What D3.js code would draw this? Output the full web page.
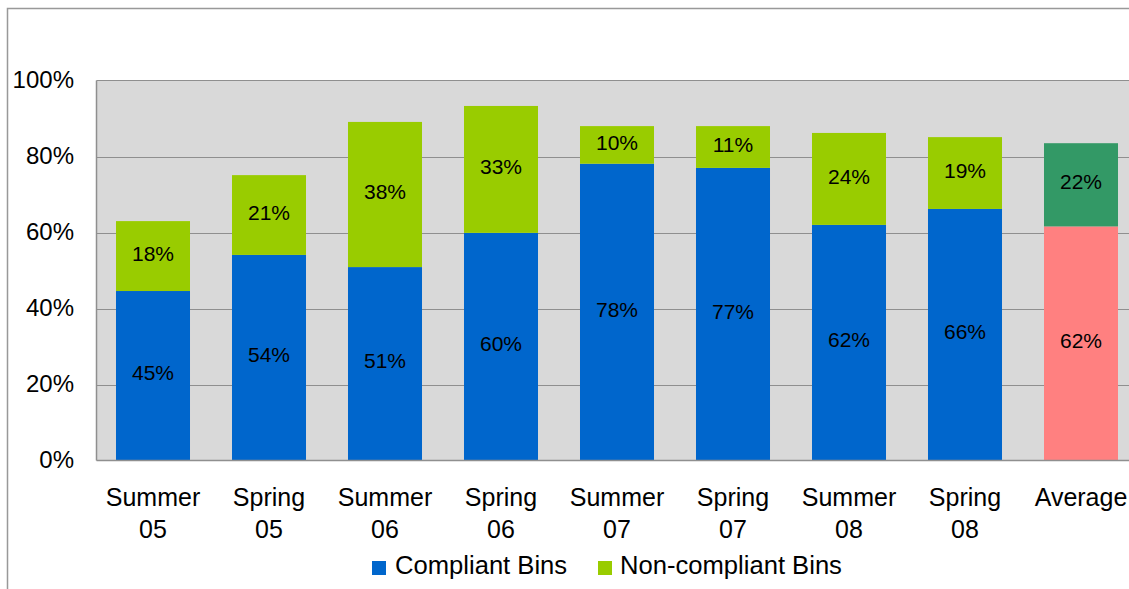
<!DOCTYPE html>
<html>
<head>
<meta charset="utf-8">
<script src="https://cdn.jsdelivr.net/npm/d3@7"></script>
<style>
  html, body { margin: 0; padding: 0; background: #fff; overflow: hidden; }
  svg { display: block; font-family: "Liberation Sans", Arial, sans-serif; }
</style>
</head>
<body>
<svg id="chart" width="1129" height="589"></svg>
<script>
// ---- data ----
const categories = ["Summer 05", "Spring 05", "Summer 06", "Spring 06", "Summer 07", "Spring 07", "Summer 08", "Spring 08", "Average"];
const categoryLines = [["Summer", "05"], ["Spring", "05"], ["Summer", "06"], ["Spring", "06"], ["Summer", "07"], ["Spring", "07"], ["Summer", "08"], ["Spring", "08"], ["Average"]];
const compliant = [0.446, 0.541, 0.509, 0.599, 0.781, 0.770, 0.620, 0.662, 0.616];
const nonCompliant = [0.184, 0.210, 0.382, 0.334, 0.099, 0.110, 0.242, 0.189, 0.219];
const seriesNames = ["Compliant Bins", "Non-compliant Bins"];
const yTicks = [0, 0.2, 0.4, 0.6, 0.8, 1.0];

// ---- styles ----
const COL_COMPLIANT = "#0066CC";
const COL_NON = "#99CC00";
const COL_AVG_COMPLIANT = "#FF8080";
const COL_AVG_NON = "#339966";
const GRID = "#8f8f8f";

(function () {
const svg = d3.select("#chart");
const pLeft = 96.5, pTop = 80.5, pBottom = 460.5, pRight = 1139;

const x = d3.scaleBand().domain(categories).range([95, 1139]).paddingInner(0.362).paddingOuter(0.181);
const y = d3.scaleLinear().domain([0, 1]).range([pBottom, pTop]);

// outer border
svg.append("rect").attr("x", 7.5).attr("y", 8.5).attr("width", 1200).attr("height", 700)
  .attr("fill", "#fff").attr("stroke", "#999").attr("stroke-width", 1.5);

// plot background
svg.append("rect").attr("x", pLeft).attr("y", pTop).attr("width", pRight - pLeft).attr("height", pBottom - pTop)
  .attr("fill", "#D9D9D9");

// gridlines
svg.append("g").selectAll("line").data(yTicks.filter(t => t > 0 && t < 1)).join("line")
  .attr("x1", pLeft).attr("x2", pRight)
  .attr("y1", d => Math.round(y(d)) + 0.5).attr("y2", d => Math.round(y(d)) + 0.5)
  .attr("stroke", GRID).attr("stroke-width", 1.2);

// plot borders
svg.append("line").attr("x1", pLeft).attr("x2", pRight).attr("y1", pTop).attr("y2", pTop).attr("stroke", GRID).attr("stroke-width", 1.2);
svg.append("line").attr("x1", pLeft).attr("x2", pLeft).attr("y1", pTop).attr("y2", pBottom).attr("stroke", GRID).attr("stroke-width", 1.5);

// stacked data
const rows = categories.map((c, i) => ({ cat: c, compliant: compliant[i], non: nonCompliant[i] }));
const stack = d3.stack().keys(["compliant", "non"])(rows);
const isAvg = i => categories[i] === "Average";
const colorFor = (key, i) => key === "compliant" ? (isAvg(i) ? COL_AVG_COMPLIANT : COL_COMPLIANT) : (isAvg(i) ? COL_AVG_NON : COL_NON);

const pct = d3.format(".0%");
stack.forEach(layer => {
  const g = svg.append("g");
  g.selectAll("rect").data(layer).join("rect")
    .attr("x", d => x(d.data.cat))
    .attr("width", x.bandwidth())
    .attr("y", d => y(d[1]))
    .attr("height", d => y(d[0]) - y(d[1]))
    .attr("fill", (d, i) => colorFor(layer.key, i));
  g.selectAll("text").data(layer).join("text")
    .attr("x", d => x(d.data.cat) + x.bandwidth() / 2)
    .attr("y", d => (y(d[0]) + y(d[1])) / 2)
    .attr("dy", "0.22em")
    .attr("text-anchor", "middle")
    .attr("font-size", 21)
    .attr("fill", "#000")
    .text(d => pct(d[1] - d[0]));
});

// bottom axis line
svg.append("line").attr("x1", pLeft).attr("x2", pRight).attr("y1", pBottom).attr("y2", pBottom).attr("stroke", GRID).attr("stroke-width", 1.5);

// y tick labels
svg.append("g").selectAll("text").data(yTicks).join("text")
  .attr("x", 74).attr("y", d => y(d) + 7)
  .attr("text-anchor", "end").attr("font-size", 24).attr("fill", "#000")
  .text(d => pct(d));

// category labels
const cg = svg.append("g");
categories.forEach((c, i) => {
  const t = cg.append("text").attr("text-anchor", "middle").attr("font-size", 25).attr("fill", "#000");
  categoryLines[i].forEach((ln, j) => {
    t.append("tspan").attr("x", x(c) + x.bandwidth() / 2).attr("y", 506 + j * 32).text(ln);
  });
});

// legend
const legendItems = [
  { name: seriesNames[0], color: COL_COMPLIANT, sx: 372, tx: 395 },
  { name: seriesNames[1], color: COL_NON, sx: 598, tx: 620 }
];
const lg = svg.append("g");
legendItems.forEach(it => {
  lg.append("rect").attr("x", it.sx).attr("y", 561).attr("width", 14).attr("height", 14).attr("fill", it.color);
  lg.append("text").attr("x", it.tx).attr("y", 574).attr("font-size", 25.6).attr("fill", "#000").text(it.name);
});
})();
</script>
</body>
</html>
